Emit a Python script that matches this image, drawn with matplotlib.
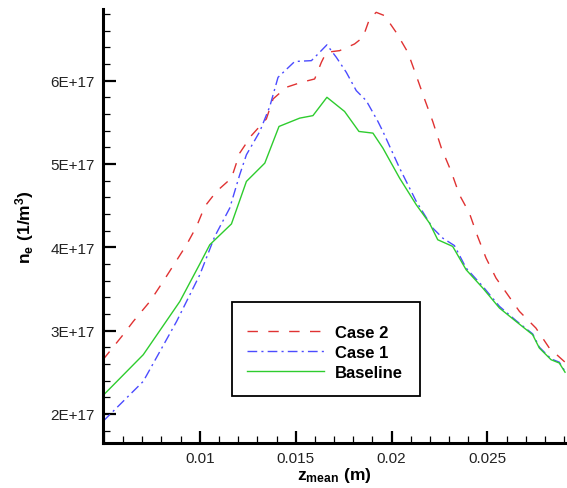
import matplotlib
matplotlib.use('Agg')
import matplotlib.pyplot as plt
from matplotlib.patches import Rectangle
from matplotlib.ticker import MultipleLocator, FuncFormatter

# data (n_e in units of 1E+17 1/m^3)
x_case2 = [0.00495, 0.0060, 0.00653, 0.0074, 0.00809, 0.0087, 0.00931, 0.00983, 0.01026, 0.01087,
           0.01165, 0.01208, 0.01269, 0.01347, 0.01382, 0.01451, 0.0153, 0.01599, 0.01634, 0.0166,
           0.01729, 0.01807, 0.01851, 0.01885, 0.0192, 0.01964, 0.02024, 0.02085, 0.02129, 0.02172,
           0.02215, 0.0226, 0.02311, 0.02354, 0.02406, 0.02449, 0.02493, 0.02545, 0.02606, 0.02667,
           0.02753, 0.02823, 0.02905]
ne_case2 = [2.65, 2.95, 3.11, 3.35, 3.59, 3.81, 4.03, 4.25, 4.49, 4.67,
            4.83, 5.13, 5.34, 5.54, 5.78, 5.92, 5.98, 6.02, 6.22, 6.34,
            6.36, 6.44, 6.52, 6.74, 6.82, 6.78, 6.58, 6.34, 6.06, 5.78,
            5.51, 5.19, 4.91, 4.63, 4.41, 4.13, 3.87, 3.63, 3.43, 3.23,
            3.03, 2.79, 2.62]

x_case1 = [0.00495, 0.00705, 0.00879, 0.0100, 0.01078, 0.01156, 0.01208, 0.01243, 0.01313, 0.01365,
           0.01408, 0.01495, 0.01582, 0.01625, 0.01663, 0.01712, 0.01764, 0.01816, 0.01868, 0.01929,
           0.01955, 0.02042, 0.02129, 0.02215, 0.02267, 0.02328, 0.02389, 0.02476, 0.02563, 0.02649,
           0.02736, 0.02771, 0.02832, 0.02875, 0.02905]
ne_case1 = [1.91, 2.39, 3.11, 3.67, 4.13, 4.47, 4.87, 5.11, 5.39, 5.69,
            6.04, 6.23, 6.24, 6.34, 6.43, 6.28, 6.10, 5.88, 5.76, 5.51,
            5.39, 4.95, 4.55, 4.23, 4.11, 4.02, 3.75, 3.53, 3.29, 3.12,
            2.96, 2.80, 2.66, 2.62, 2.51]

x_base = [0.00495, 0.00705, 0.00896, 0.0100, 0.01052, 0.01165, 0.01243, 0.01339, 0.01413, 0.01521,
          0.0159, 0.01663, 0.01755, 0.0183, 0.01903, 0.01955, 0.02042, 0.02129, 0.02198, 0.02241,
          0.02319, 0.02389, 0.02476, 0.02563, 0.02649, 0.02736, 0.02771, 0.02832, 0.02875, 0.02905]
ne_base = [2.22, 2.71, 3.35, 3.80, 4.03, 4.28, 4.79, 5.01, 5.45, 5.55,
           5.58, 5.80, 5.63, 5.39, 5.37, 5.19, 4.83, 4.51, 4.29, 4.09,
           4.01, 3.73, 3.51, 3.27, 3.11, 2.95, 2.79, 2.65, 2.61, 2.50]

labels = ['Case 2', 'Case 1', 'Baseline']

plt.rcParams['font.family'] = ['Liberation Sans', 'DejaVu Sans']
plt.rcParams['mathtext.fontset'] = 'custom'
plt.rcParams['mathtext.rm'] = 'Liberation Sans:bold'
plt.rcParams['mathtext.default'] = 'rm'

fig = plt.figure(figsize=(5.67, 4.89), dpi=100)
ax = fig.add_axes([103 / 567, 45 / 489, 463 / 567, 434 / 489])

sc = 1e17
ax.plot(x_case2, [v * sc for v in ne_case2], color='#e03232', lw=1.0, dashes=(7.5, 7.5), label=labels[0])
ax.plot(x_case1, [v * sc for v in ne_case1], color='#4b4bff', lw=1.0, dashes=(7, 3, 1.5, 3), label=labels[1])
ax.plot(x_base, [v * sc for v in ne_base], color='#2ecc2e', lw=1.0, label=labels[2])

ax.set_xlim(0.00495, 0.0291)
ax.set_ylim(1.65e17, 6.86e17)

ax.xaxis.set_major_locator(MultipleLocator(0.005))
ax.xaxis.set_minor_locator(MultipleLocator(0.001))
ax.yaxis.set_major_locator(MultipleLocator(1e17))
ax.yaxis.set_minor_locator(MultipleLocator(0.2e17))
# no label on the 0.005 tick that sits on the axis corner
ax.xaxis.set_major_formatter(FuncFormatter(lambda v, p: '' if v < 0.0075 else '%g' % round(v, 4)))
ax.yaxis.set_major_formatter(FuncFormatter(lambda v, p: '%dE+17' % round(v / 1e17)))

for s in ['top', 'right']:
    ax.spines[s].set_visible(False)
for s in ['left', 'bottom']:
    ax.spines[s].set_linewidth(2.2)

ax.tick_params(which='major', direction='in', length=9, width=1.6, labelsize=11, labelcolor='#222222', pad=6)
ax.tick_params(which='minor', direction='in', length=5, width=0.9)

ax.set_xlabel(r'$z_{mean}\ (m)$', fontsize=12.5, va='top')
ax.set_ylabel(r'$n_e\ (1/m^3)$', fontsize=12.5)
ax.xaxis.set_label_coords(0.5, -0.05)
ax.yaxis.set_label_coords(-0.145, 0.5)

# legend box drawn separately so the padding matches the original
ax.add_patch(Rectangle((0.2786, 0.1083), 0.406, 0.2166, transform=ax.transAxes,
                       facecolor='white', edgecolor='black', lw=1.3, zorder=4))
leg = ax.legend(loc='center left', bbox_to_anchor=(0.311, 0.2085), frameon=False,
                prop={'weight': 'bold', 'size': 12}, handlelength=4.6, handletextpad=0.7,
                borderpad=0, labelspacing=0.3, borderaxespad=0)
leg.set_zorder(5)

plt.savefig('out.png', dpi=100)
